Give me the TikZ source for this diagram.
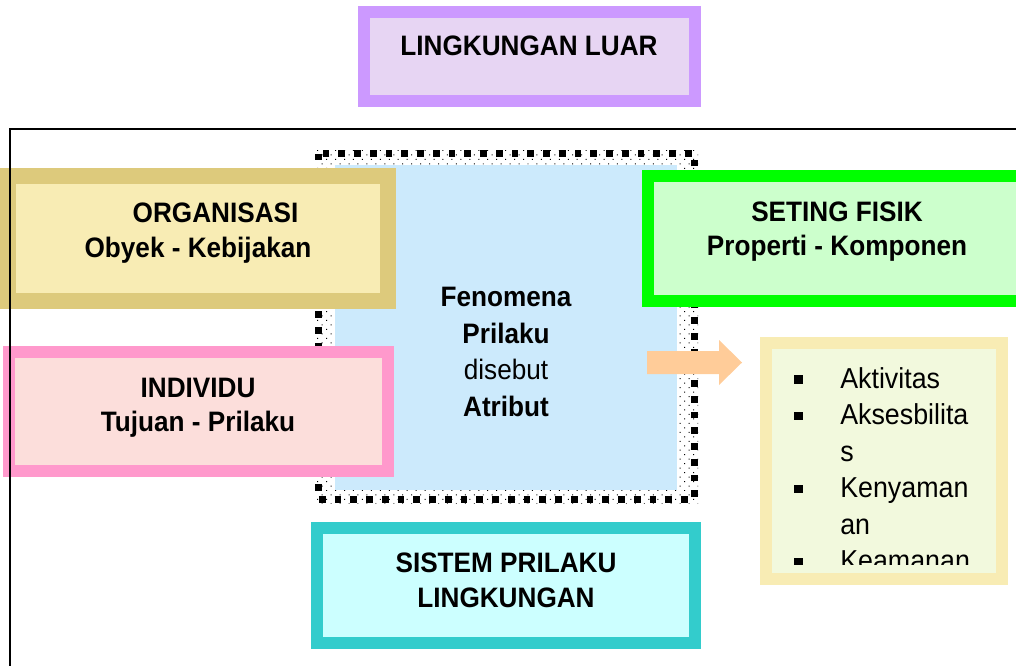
\documentclass[tikz,border=0pt]{standalone}
\usepackage{fontspec}
\setmainfont[FakeStretch=0.93]{Liberation Sans}
\usetikzlibrary{patterns.meta}

% Warna
\definecolor{luarline}{HTML}{CC99FF}
\definecolor{luarfill}{HTML}{E7D5F3}
\definecolor{orgline}{HTML}{DDCA7C}
\definecolor{orgfill}{HTML}{F8ECB4}
\definecolor{indline}{HTML}{FF99CC}
\definecolor{indfill}{HTML}{FCDEDB}
\definecolor{setline}{HTML}{00FF00}
\definecolor{setfill}{HTML}{CCFFCC}
\definecolor{sisline}{HTML}{33CCCC}
\definecolor{sisfill}{HTML}{CCFFFF}
\definecolor{atrline}{HTML}{F8ECB4}
\definecolor{atrfill}{HTML}{F2F9DD}
\definecolor{fenfill}{HTML}{CCEAFC}
\definecolor{panah}{HTML}{FFCC99}

\newcommand{\butir}{\makebox[32.7pt][l]{\rule[3.2pt]{6pt}{6pt}}}
\newcommand{\lanjut}{\hspace*{32.7pt}}

\begin{document}
\begin{tikzpicture}[x=0.025cm,y=-0.025cm,
	judul/.style={font=\bfseries\fontsize{20}{24.5}\selectfont,align=center,inner sep=0pt},
	kotak/.style={line width=8.5pt},
	butiran/.style={font=\fontsize{20.5}{25}\selectfont,anchor=base west,inner sep=0pt}]
	
	\useasboundingbox (0,0) rectangle (1016,665);
	
	% Lingkungan luar
	\filldraw[kotak,draw=luarline,fill=luarfill] (364,12) rectangle (695,101);
	\node[judul] (luar) at (529,45.5) {LINGKUNGAN LUAR};
	
	% Bingkai fenomena
	\fill[pattern={Dots[distance=4.5pt,radius=0.5pt,angle=45]},pattern color=black] (315,150) rectangle (698,503);
	\fill[fenfill] (335,165) rectangle (677,490);
	\draw[line width=4.8pt,dash pattern=on 4.8pt off 6.4pt] (318.5,153.5) rectangle (694.5,499.5);
	\node[judul,font=\bfseries\fontsize{20}{26}\selectfont] (fenomena) at (506,352)
		{Fenomena\\Prilaku\\{\mdseries disebut}\\Atribut};
	
	% Organisasi dan individu
	\filldraw[line width=11.4pt,draw=orgline,fill=orgfill] (8,176) rectangle (388,301);
	\node[judul] (org) at (198,233) {\hspace*{25pt}ORGANISASI\\Obyek - Kebijakan};
	
	\filldraw[kotak,draw=indline,fill=indfill] (9,352) rectangle (388,471);
	\node[judul] (individu) at (198,408) {INDIVIDU\\Tujuan - Prilaku};
	
	% Seting fisik
	\filldraw[kotak,draw=setline,fill=setfill] (648,176) rectangle (1040,301);
	\node[judul] (seting) at (837,231.5) {SETING FISIK\\Properti - Komponen};
	
	% Panah ke atribut
	\fill[panah] (647,351) -- (719,351) -- (719,340) -- (742,362.5)
		-- (719,385) -- (719,374) -- (647,374) -- cycle;
	
	% Atribut
	\filldraw[kotak,draw=atrline,fill=atrfill] (766,343) rectangle (1002,579);
	\begin{scope}
		\clip (772,349) rectangle (997,564);
		\node[butiran] (a1) at (794,388) {\butir Aktivitas};
		\node[butiran] (a2) at (794,424.5) {\butir Aksesbilita};
		\node[butiran] (a3) at (794,461) {\lanjut s};
		\node[butiran] (a4) at (794,497.5) {\butir Kenyaman};
		\node[butiran] (a5) at (794,534) {\lanjut an};
		\node[butiran] (a6) at (794,570.5) {\butir Keamanan};
	\end{scope}
	
	% Sistem prilaku lingkungan
	\filldraw[kotak,draw=sisline,fill=sisfill] (317,528) rectangle (695,643);
	\node[judul] (sistem) at (506,580.5) {SISTEM PRILAKU\\LINGKUNGAN};
	
	% Garis batas
	\draw[line width=1.4pt] (10,680) -- (10,129) -- (1030,129);
	
\end{tikzpicture}
\end{document}
